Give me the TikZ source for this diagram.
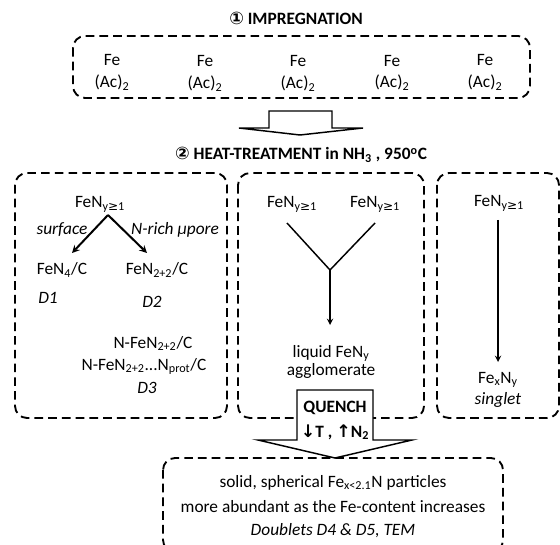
\documentclass[tikz,border=0pt]{standalone}
\usepackage{fontspec}
\setmainfont{Carlito}
\newfontfamily\symfont{DejaVu Sans}
\newcommand{\sub}[1]{\textsubscript{#1}}
\newcommand{\geqone}{{\symfont ≥}1}
\tikzset{
  lbl/.style={anchor=base, inner sep=0pt},
  ital/.style={lbl, font=\fontsize{13}{15.6}\selectfont\itshape},
  title/.style={lbl, font=\fontsize{13}{15.6}\selectfont\bfseries},
  dashbox/.style={line width=1.4pt, dash pattern=on 6.5pt off 3.8pt, rounded corners=9pt},
  bigarrow/.style={line width=1.1pt, fill=white, line join=miter},
  link/.style={line width=1.1pt}
}

\begin{document}
\begin{tikzpicture}[x=0.75pt, y=-0.75pt, font=\fontsize{13}{15.6}\selectfont]
\useasboundingbox (0,0) rectangle (560,545);

% step 1
\node[title] (imp) at (296,25) {{\symfont ①} IMPREGNATION};
\draw[dashbox] (73,36) rectangle (530,98);
\node[lbl] (fe1) at (112,66) {Fe};
\node[lbl] (ac1) at (112,88) {(Ac)\sub{2}};
\node[lbl] (fe2) at (205,67) {Fe};
\node[lbl] (ac2) at (205,89) {(Ac)\sub{2}};
\node[lbl] (fe3) at (298,67) {Fe};
\node[lbl] (ac3) at (298,89) {(Ac)\sub{2}};
\node[lbl] (fe4) at (392,67) {Fe};
\node[lbl] (ac4) at (392,88) {(Ac)\sub{2}};
\node[lbl] (fe5) at (485,66) {Fe};
\node[lbl] (ac5) at (485,88) {(Ac)\sub{2}};

\draw[bigarrow] (269,128) -- (269,111) -- (332,111) -- (332,128) -- (363,128) -- (300,135) -- (239,128) -- cycle;

% step 2
\node[title] (heat) at (301,160) {{\symfont ②} HEAT-TREATMENT in NH\sub{3} , 950\textsuperscript{o}C};
\draw[dashbox] (15,173) rectangle (227,418);
\draw[dashbox] (238,173) rectangle (424,418);
\draw[dashbox] (437,173) rectangle (559,418);

% left box
\node[lbl] (srcL) at (100,208) {FeN\sub{y\geqone}};
\coordinate (apexL) at (108,215);
\coordinate (endD1) at (72,253);
\coordinate (endD2) at (147,253);
\draw[-stealth, line width=1.5pt] (apexL) -- (endD1);
\draw[-stealth, line width=1.5pt] (apexL) -- (endD2);
\node[ital] (surf) at (62,235) {surface};
\node[ital] (pore) at (175,235) {N-rich µpore};
\node[lbl] (fen4) at (62,275) {FeN\sub{4}/C};
\node[lbl] (fen22) at (157,275) {FeN\sub{2+2}/C};
\node[ital] (d1) at (48,303) {D1};
\node[ital] (d2) at (152,307) {D2};
\node[lbl] (nfen) at (153,348) {N-FeN\sub{2+2}/C};
\node[lbl] (nprot) at (144,370) {N-FeN\sub{2+2}...N\sub{prot}/C};
\node[ital] (d3) at (147,393) {D3};

% middle box
\node[lbl] (srcA) at (292,208) {FeN\sub{y\geqone}};
\node[lbl] (srcB) at (375,208) {FeN\sub{y\geqone}};
\coordinate (vA) at (287,223);
\coordinate (vB) at (375,223);
\coordinate (apexM) at (330,270);
\coordinate (endM) at (330,325);
\draw[link] (vA) -- (apexM) -- (vB);
\draw[-stealth, link] (apexM) -- (endM);
\node[lbl] (liq) at (331,357) {liquid FeN\sub{y}};
\node[lbl] (aggl) at (331,375) {agglomerate};

% right box
\node[lbl] (srcR) at (499,207) {FeN\sub{y\geqone}};
\coordinate (topR) at (498,220);
\coordinate (endR) at (498,362);
\draw[-stealth, link] (topR) -- (endR);
\node[lbl] (fexny) at (498,383) {Fe\sub{x}N\sub{y}};
\node[ital] (singlet) at (498,404) {singlet};

% quench and result
\draw[dashbox] (163,458) rectangle (503,552);
\draw[bigarrow] (297,440) -- (297,390) -- (373,390) -- (373,440) -- (412,440) -- (335,458) -- (258,440) -- cycle;
\node[title] (quench) at (335,412) {QUENCH};
\node[title] (cond) at (335,437) {{\symfont ↓}T , {\symfont ↑}N\sub{2}};
\node[lbl] (solid) at (333,487) {solid, spherical Fe\sub{x<2.1}N particles};
\node[lbl] (abund) at (333,512) {more abundant as the Fe-content increases};
\node[ital] (doub) at (333,535) {Doublets D4 \& D5, TEM};
\end{tikzpicture}
\end{document}
